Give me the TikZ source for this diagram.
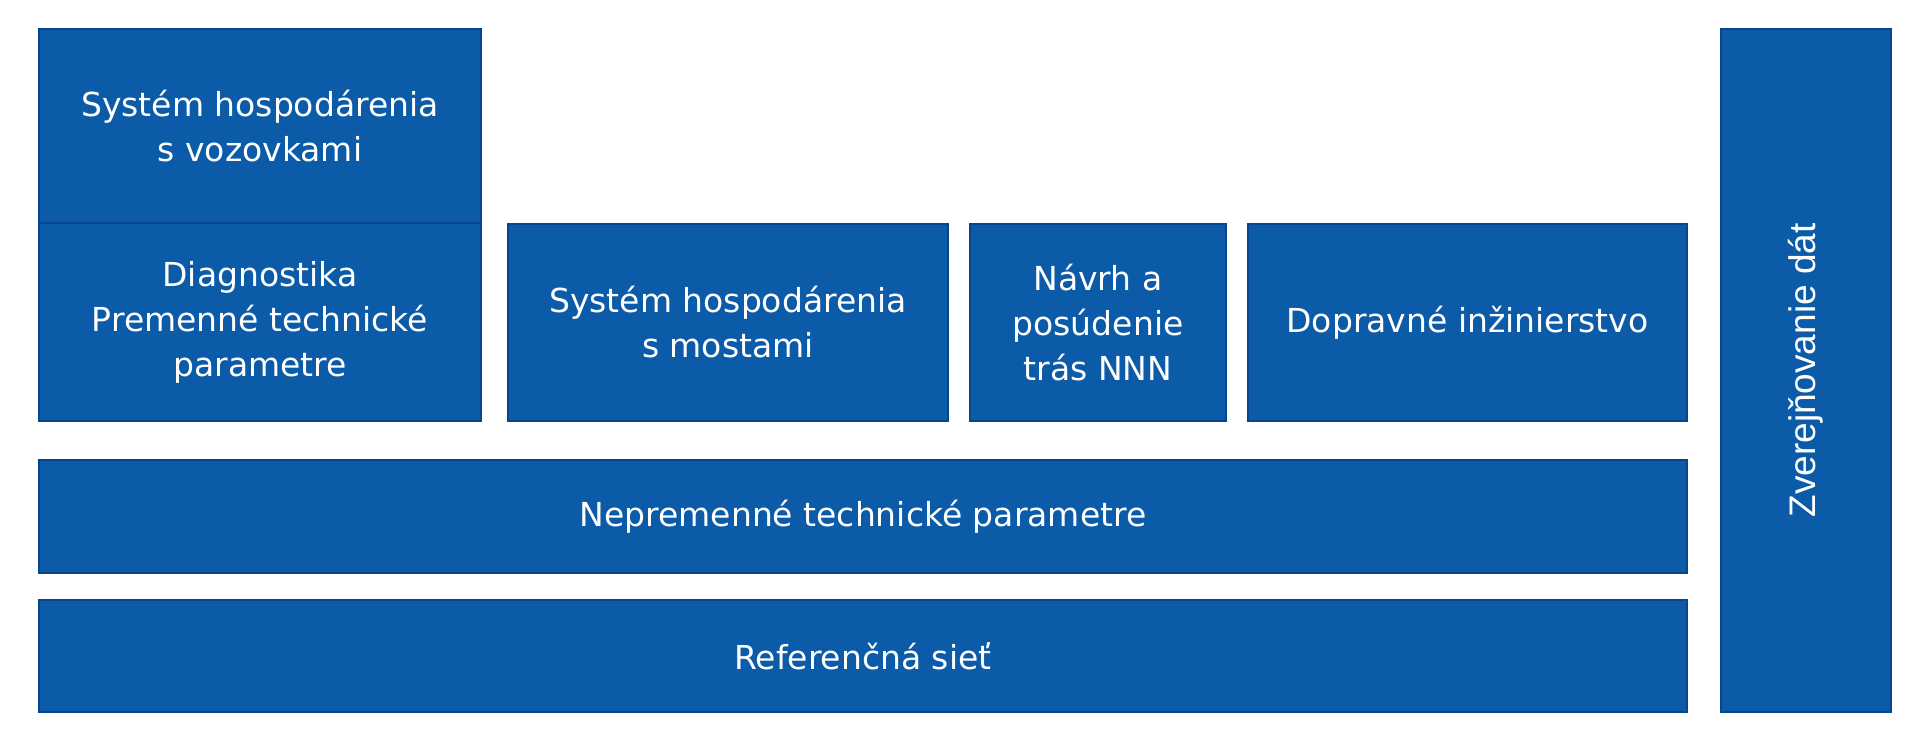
\documentclass[tikz,border=0pt]{standalone}
\usepackage{fontspec}
\setmainfont{DejaVu Sans}
\newfontfamily\vertfont{Liberation Sans}
\definecolor{boxfill}{HTML}{0B5BA9}
\definecolor{boxline}{HTML}{07468C}
\begin{document}
\begin{tikzpicture}[x=1pt,y=-1pt,
  box/.style={draw=boxline, line width=2.4pt, fill=boxfill, inner sep=0pt, outer sep=0pt,
    anchor=north west, align=center, text=white,
    font=\fontsize{33}{45}\selectfont}]
\useasboundingbox[fill=white] (0,0) rectangle (1920,751);
\node[box, minimum width=442pt, minimum height=194pt] (a) at (39,29) {Systém hospodárenia\\s vozovkami};
\node[box, minimum width=442pt, minimum height=198pt] (b) at (39,223) {Diagnostika\\Premenné technické\\parametre};
\node[box, minimum width=440pt, minimum height=197pt] (c) at (508,224) {Systém hospodárenia\\s mostami};
\node[box, minimum width=256pt, minimum height=197pt] (d) at (970,224) {Návrh a\\posúdenie\\trás NNN};
\node[box, minimum width=439pt, minimum height=197pt] (e) at (1248,224) {Dopravné inžinierstvo};
\node[box, minimum width=1648pt, minimum height=113pt] (f) at (39,460) {Nepremenné technické parametre};
\node[box, minimum width=1648pt, minimum height=112pt] (g) at (39,600) {Referenčná sieť};
\node[box, minimum width=170pt, minimum height=683pt] (h) at (1721,29) {};
\node[text=white, rotate=90, font=\vertfont\fontsize{37}{40}\selectfont, inner sep=0pt] (ht) at (h.center) {Zverejňovanie dát};
\end{tikzpicture}
\end{document}
